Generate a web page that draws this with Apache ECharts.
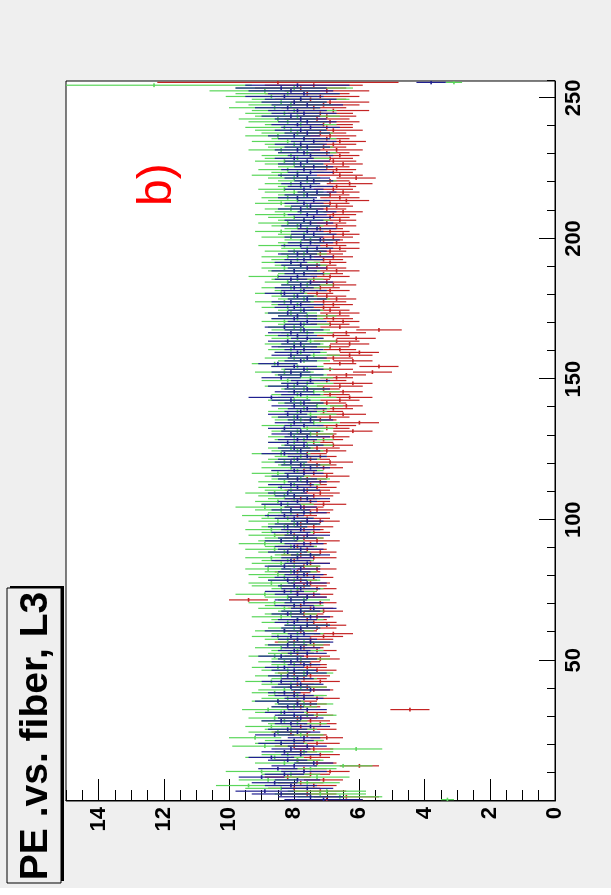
<!DOCTYPE html>
<html>
<head>
<meta charset="utf-8">
<script src="https://cdn.jsdelivr.net/npm/echarts@6/dist/echarts.min.js"></script>
<style>
html, body { margin: 0; padding: 0; background: #fff; overflow: hidden; }
#wrap { position: absolute; left: 0; top: 0; width: 611px; height: 895px; overflow: hidden; }
/* chart is drawn landscape and turned a quarter turn, like the reference */
#chart { position: absolute; left: 0; top: 0; width: 895px; height: 611px;
         transform-origin: 0 0; transform: translateY(895px) rotate(-90deg); }
</style>
</head>
<body>
<div id="wrap"><div id="chart"></div></div>
<script>
// PE per fiber bin (0..255), three histograms
var blueVals = [
  7.1,7.5,8.4,8.9,7.6,8.1,8.6,7.9,9.0,8.3,7.7,8.5,8.0,7.4,8.2,8.7,
  7.8,8.3,8.1,7.6,8.4,8.0,7.7,8.6,7.9,8.2,7.5,8.1,8.4,7.8,8.0,8.3,
  7.6,8.2,7.9,8.5,7.7,8.0,8.3,7.5,8.1,7.8,8.4,7.9,8.2,7.6,8.0,8.3,
  7.7,8.1,7.9,8.4,7.6,8.0,7.8,8.2,7.5,7.9,8.1,7.7,8.3,7.8,7.6,8.0,
  7.9,7.5,8.2,7.8,7.4,8.0,7.7,8.1,7.6,7.9,8.3,7.8,8.0,7.6,8.2,7.9,
  7.7,8.0,7.8,8.3,7.6,8.1,7.9,7.5,8.2,7.8,8.0,7.7,8.4,7.9,7.6,8.1,
  7.8,8.2,7.9,7.6,8.0,8.3,7.7,8.1,7.8,8.4,7.9,7.6,8.0,8.2,7.7,7.9,
  8.1,7.6,7.9,8.2,7.7,8.0,7.5,7.8,8.1,7.9,7.6,8.3,7.8,8.0,7.7,8.2,
  7.9,7.6,8.1,7.8,8.3,7.7,8.0,7.5,7.9,8.2,7.8,7.6,8.0,7.7,8.1,8.7,
  7.8,8.0,7.6,8.2,7.9,7.5,8.4,7.8,8.1,7.7,8.0,8.5,7.8,7.6,8.1,7.9,
  7.7,8.0,7.8,8.2,7.6,7.9,8.1,7.7,8.3,7.8,7.6,8.0,7.9,8.2,7.7,8.0,
  7.8,8.1,7.6,7.9,8.3,7.7,8.0,7.8,7.5,8.1,7.9,7.7,8.0,7.6,7.8,8.1,
  7.7,7.5,7.9,7.6,7.3,7.8,7.5,7.2,7.7,7.4,7.6,7.3,7.8,7.5,7.7,7.4,
  7.6,7.3,7.8,7.5,7.7,7.4,7.9,7.6,7.3,7.7,7.5,7.8,7.4,7.6,7.9,7.5,
  7.7,7.4,7.8,7.6,8.0,7.5,7.7,7.9,7.6,7.8,7.4,7.7,8.0,7.6,7.8,7.5,
  7.9,7.6,7.8,8.1,7.7,7.9,8.2,7.6,8.0,7.8,8.3,7.7,8.1,8.4,7.9,3.8
];
var blueErr = [
  1.2,1.0,0.9,0.9,0.8,0.8,0.7,0.7,0.7,0.6,0.7,0.6,0.7,0.6,0.6,0.7,
  0.6,0.7,0.6,0.6,0.7,0.6,0.5,0.6,0.7,0.6,0.6,0.5,0.6,0.7,0.6,0.6,
  0.6,0.5,0.6,0.7,0.6,0.6,0.5,0.6,0.6,0.7,0.6,0.5,0.6,0.6,0.7,0.6,
  0.5,0.6,0.6,0.7,0.6,0.5,0.6,0.6,0.7,0.6,0.6,0.5,0.6,0.6,0.7,0.6,
  0.6,0.6,0.5,0.6,0.7,0.6,0.6,0.5,0.6,0.7,0.6,0.6,0.5,0.6,0.6,0.7,
  0.6,0.5,0.6,0.6,0.7,0.6,0.5,0.6,0.6,0.7,0.6,0.6,0.5,0.6,0.7,0.6,
  0.6,0.6,0.7,0.5,0.6,0.6,0.7,0.6,0.5,0.6,0.6,0.7,0.6,0.6,0.5,0.6,
  0.7,0.6,0.6,0.5,0.6,0.7,0.6,0.6,0.5,0.6,0.6,0.7,0.6,0.5,0.6,0.6,
  0.6,0.7,0.6,0.6,0.5,0.6,0.6,0.7,0.6,0.6,0.5,0.6,0.7,0.6,0.6,0.7,
  0.6,0.6,0.7,0.6,0.5,0.6,0.6,0.7,0.6,0.6,0.7,0.6,0.5,0.6,0.6,0.7,
  0.6,0.7,0.6,0.6,0.5,0.6,0.7,0.6,0.6,0.5,0.6,0.7,0.6,0.6,0.5,0.6,
  0.7,0.6,0.6,0.5,0.6,0.7,0.6,0.6,0.7,0.5,0.6,0.6,0.7,0.6,0.6,0.5,
  0.6,0.7,0.6,0.6,0.5,0.6,0.7,0.6,0.6,0.7,0.5,0.6,0.6,0.7,0.6,0.6,
  0.6,0.6,0.7,0.6,0.6,0.5,0.6,0.7,0.6,0.6,0.7,0.6,0.6,0.7,0.6,0.7,
  0.7,0.6,0.7,0.7,0.6,0.7,0.8,0.7,0.7,0.8,0.7,0.8,0.8,0.7,0.8,0.9,
  0.8,0.9,0.8,0.9,1.0,0.9,1.0,1.1,1.0,1.1,1.2,1.1,1.3,1.4,1.6,0.45
];
var greenVals = [
  3.3,6.6,7.2,7.0,8.4,9.4,7.6,8.8,7.3,8.1,9.0,7.5,6.5,8.3,7.9,8.6,
  8.2,7.7,6.1,8.9,8.4,8.0,9.2,7.8,8.5,8.1,8.7,7.9,8.3,8.6,7.6,8.4,
  8.8,8.0,7.7,8.5,8.2,7.9,8.6,8.3,7.8,8.1,8.7,8.0,8.4,7.7,8.2,8.5,
  8.0,8.3,7.8,8.6,8.1,7.9,8.4,8.0,7.7,8.2,8.5,7.9,8.3,8.0,7.6,8.2,
  7.9,8.4,8.1,7.8,8.3,8.0,8.6,7.7,8.2,8.9,8.1,7.9,8.4,8.7,8.0,8.3,
  8.5,8.1,8.8,8.0,8.4,8.2,8.7,7.9,8.3,8.6,8.1,8.9,8.4,8.0,8.6,8.2,
  8.7,8.3,8.0,8.5,8.2,8.8,8.1,8.4,8.9,8.2,8.5,8.0,8.3,8.6,8.1,8.4,
  8.0,8.3,7.8,8.2,8.5,7.9,8.1,7.7,8.3,8.0,7.8,8.4,7.9,8.1,7.6,8.0,
  7.7,8.0,7.5,7.9,7.6,8.1,7.4,7.8,8.0,7.5,7.9,7.7,7.3,7.8,8.0,7.6,
  7.9,7.4,7.7,8.0,7.6,8.2,7.5,7.8,8.3,7.6,7.9,8.6,7.7,8.0,7.4,7.8,
  8.1,7.7,8.0,7.5,7.9,8.2,7.6,7.8,8.0,7.7,8.3,7.9,7.6,8.1,7.8,8.2,
  7.9,8.3,7.7,8.0,8.4,7.8,8.1,7.6,8.2,7.9,8.5,7.7,8.0,8.3,7.8,8.1,
  7.9,8.2,7.7,8.0,7.6,8.3,7.8,7.5,8.1,7.7,8.4,7.6,7.9,8.2,7.7,8.0,
  8.3,7.8,8.1,7.6,8.4,7.9,8.2,7.7,8.0,8.3,7.8,8.1,7.6,8.0,8.4,7.9,
  8.2,7.7,8.0,8.3,7.9,8.1,7.6,8.4,7.8,8.0,8.2,7.7,8.5,7.9,8.1,8.3,
  7.8,8.2,8.5,7.9,8.3,8.0,8.6,8.1,8.4,7.8,8.7,8.2,8.9,8.0,12.3,3.1
];
var greenErr = [
  0.2,1.3,1.4,1.2,1.1,1.0,1.0,0.9,1.0,0.9,1.1,0.8,0.9,0.9,0.8,0.9,
  0.8,0.9,0.8,1.0,0.8,0.9,0.8,0.7,0.9,0.8,0.8,0.9,0.7,0.8,0.9,0.8,
  0.8,0.7,0.9,0.8,0.8,0.9,0.7,0.8,0.8,0.9,0.8,0.7,0.8,0.9,0.8,0.8,
  0.7,0.8,0.9,0.8,0.7,0.8,0.8,0.9,0.8,0.7,0.8,0.8,0.9,0.8,0.7,0.8,
  0.8,0.9,0.8,0.7,0.8,0.9,0.8,0.8,0.7,0.9,0.8,0.8,0.9,0.7,0.8,0.8,
  0.9,0.8,0.7,0.8,0.9,0.8,0.8,0.7,0.8,0.9,0.8,0.8,0.7,0.9,0.8,0.8,
  0.8,0.7,0.8,0.9,0.8,0.8,0.7,0.8,0.9,0.8,0.7,0.8,0.8,0.9,0.8,0.7,
  0.8,0.8,0.9,0.7,0.8,0.8,0.9,0.8,0.7,0.8,0.8,0.9,0.8,0.7,0.8,0.8,
  0.9,0.8,0.7,0.8,0.8,0.9,0.8,0.8,0.7,0.8,0.9,0.8,0.8,0.7,0.8,0.9,
  0.8,0.8,0.7,0.9,0.8,0.8,0.7,0.8,0.9,0.8,0.8,0.7,0.8,0.9,0.8,0.8,
  0.7,0.8,0.9,0.8,0.8,0.7,0.8,0.9,0.8,0.8,0.7,0.8,0.9,0.8,0.7,0.8,
  0.8,0.9,0.8,0.7,0.8,0.8,0.9,0.8,0.7,0.8,0.9,0.8,0.8,0.7,0.8,0.9,
  0.8,0.8,0.7,0.9,0.8,0.8,0.7,0.8,0.9,0.8,0.8,0.7,0.8,0.9,0.8,0.8,
  0.9,0.8,0.8,0.7,0.8,0.9,0.8,0.8,0.9,0.8,0.7,0.8,0.9,0.8,0.9,0.8,
  0.9,0.8,0.9,0.9,1.0,0.9,0.9,1.0,1.0,0.9,1.1,1.0,1.0,1.1,1.1,1.2,
  1.1,1.2,1.2,1.3,1.2,1.3,1.4,1.3,1.4,1.5,1.4,1.6,1.7,1.8,3.0,0.25
];
var redVals = [
  7.0,6.4,7.6,7.2,8.0,7.4,7.8,7.1,8.2,7.5,6.9,7.7,6.0,7.3,7.9,7.5,
  7.2,7.8,7.4,8.0,7.3,7.7,7.0,7.6,8.1,7.4,7.8,7.2,7.5,7.9,7.3,7.6,
  4.45,7.8,7.5,7.9,7.3,7.7,8.0,7.4,7.6,7.9,7.2,7.7,7.5,8.0,7.3,7.6,
  7.5,7.8,7.2,7.6,7.9,7.3,7.7,7.4,8.0,7.5,7.1,6.8,7.8,7.3,7.0,7.4,
  7.6,7.3,7.7,7.1,7.5,7.8,7.2,9.4,7.6,7.4,7.9,7.3,7.7,7.5,7.8,7.4,
  7.6,7.9,7.3,7.7,7.5,8.0,7.4,7.8,7.2,7.6,7.9,7.5,7.3,7.7,8.0,7.4,
  7.7,7.4,7.8,7.2,7.6,7.9,7.5,7.3,7.7,7.1,7.5,7.8,7.4,7.2,7.6,7.3,
  7.5,7.2,7.6,7.0,7.4,7.7,7.1,7.3,6.9,7.5,7.2,7.6,7.0,7.3,6.8,7.4,
  7.1,6.8,7.3,6.2,7.0,6.7,6.0,7.2,6.9,6.5,7.1,6.8,6.4,7.0,6.6,6.3,
  6.9,6.5,7.1,6.6,6.2,7.0,6.7,6.4,5.6,6.9,5.4,6.6,6.2,6.8,6.3,6.0,
  6.6,6.9,6.3,6.7,6.1,6.8,6.4,5.4,6.6,6.9,6.5,6.8,7.0,6.6,6.9,7.1,
  6.8,7.1,6.7,7.0,7.3,6.9,7.2,6.8,7.0,7.4,6.9,7.1,6.7,7.0,7.3,6.9,
  7.1,6.8,7.2,6.9,6.6,7.0,6.7,7.1,6.8,6.5,6.9,7.2,6.7,7.0,6.6,6.9,
  6.8,6.5,7.0,6.7,6.9,6.4,6.6,6.9,6.5,6.8,6.7,6.3,6.9,6.1,6.6,6.8,
  6.7,7.0,6.5,6.8,6.9,6.6,7.0,6.7,7.1,6.8,6.6,7.0,6.9,7.2,6.8,7.0,
  7.1,6.9,7.3,7.0,7.2,6.8,7.4,7.1,6.9,7.5,7.2,7.6,7.0,7.8,7.4,8.5
];
var redErr = [
  1.1,1.0,0.9,0.8,0.8,0.7,0.7,0.6,0.7,0.6,0.6,0.7,0.6,0.6,0.7,0.6,
  0.6,0.5,0.6,0.6,0.7,0.6,0.5,0.6,0.6,0.7,0.6,0.5,0.6,0.6,0.5,0.6,
  0.6,0.6,0.5,0.6,0.7,0.6,0.5,0.6,0.6,0.5,0.6,0.7,0.6,0.5,0.6,0.6,
  0.5,0.6,0.6,0.7,0.5,0.6,0.6,0.5,0.6,0.7,0.6,0.6,0.5,0.6,0.6,0.7,
  0.6,0.5,0.6,0.6,0.7,0.6,0.5,0.6,0.6,0.6,0.5,0.6,0.7,0.6,0.5,0.6,
  0.6,0.7,0.6,0.5,0.6,0.6,0.7,0.6,0.5,0.6,0.6,0.5,0.7,0.6,0.6,0.5,
  0.6,0.6,0.5,0.6,0.7,0.6,0.6,0.5,0.6,0.7,0.6,0.5,0.6,0.6,0.7,0.6,
  0.5,0.6,0.6,0.7,0.6,0.5,0.6,0.6,0.7,0.6,0.5,0.6,0.6,0.7,0.6,0.6,
  0.6,0.5,0.6,0.6,0.7,0.6,0.6,0.5,0.6,0.7,0.6,0.6,0.5,0.6,0.6,0.7,
  0.6,0.6,0.5,0.7,0.6,0.6,0.5,0.6,0.6,0.7,0.6,0.5,0.6,0.6,0.7,0.6,
  0.5,0.6,0.6,0.7,0.6,0.5,0.6,0.7,0.6,0.6,0.5,0.6,0.7,0.6,0.6,0.5,
  0.6,0.7,0.6,0.6,0.5,0.6,0.6,0.7,0.6,0.5,0.6,0.6,0.7,0.6,0.6,0.5,
  0.6,0.6,0.7,0.5,0.6,0.6,0.7,0.6,0.6,0.5,0.6,0.7,0.6,0.6,0.5,0.6,
  0.7,0.6,0.6,0.5,0.6,0.7,0.6,0.6,0.5,0.6,0.6,0.7,0.6,0.6,0.7,0.6,
  0.6,0.7,0.6,0.7,0.7,0.6,0.7,0.8,0.7,0.7,0.8,0.7,0.8,0.8,0.9,0.8,
  0.9,0.9,1.0,0.9,1.0,1.1,1.0,1.1,1.2,1.1,1.2,1.3,1.3,1.4,1.5,3.7
];
var fiberTicks = [0, 50, 100, 150, 200, 250];
var titleText = 'PE .vs. fiber, L3';
var panelText = 'b)';

var FONT = '"Liberation Sans", Arial, Helvetica, sans-serif';

function toRows(vals, errs) {
  return vals.map(function (v, i) { return [i, v, errs[i]]; });
}

// error bar for one bin: vertical PE error + horizontal bin width
function renderBin(params, api) {
  var x = api.value(0), y = api.value(1), e = api.value(2);
  var lo = api.coord([x + 0.5, y - e]);
  var hi = api.coord([x + 0.5, y + e]);
  var l = api.coord([x, y]);
  var r = api.coord([x + 1, y]);
  var st = { stroke: api.visual('color'), lineWidth: 1.2 };
  return {
    type: 'group',
    children: [
      { type: 'line', shape: { x1: lo[0], y1: lo[1], x2: hi[0], y2: hi[1] }, style: st },
      { type: 'line', shape: { x1: l[0] - 0.5, y1: l[1], x2: r[0] + 0.5, y2: r[1] }, style: { stroke: api.visual('color'), lineWidth: 1.6 } }
    ]
  };
}

function histSeries(name, color, vals, errs) {
  return {
    name: name,
    type: 'custom',
    xAxisIndex: 0,
    yAxisIndex: 0,
    clip: true,
    itemStyle: { color: color },
    renderItem: renderBin,
    data: toRows(vals, errs),
    z: 3
  };
}

var myChart = echarts.init(document.getElementById('chart'), null, { renderer: 'canvas' });

var option = {
  backgroundColor: '#efefef',
  animation: false,
  grid: {
    left: 94, right: 81, top: 66, bottom: 56,
    show: true, backgroundColor: '#ffffff', borderColor: '#000', borderWidth: 1
  },
  xAxis: [
    {
      type: 'value', min: 0, max: 256, interval: 50, position: 'bottom',
      axisLine: { show: true, lineStyle: { color: '#000', width: 1 } },
      axisTick: { inside: true, length: 16, lineStyle: { color: '#000', width: 1 } },
      axisLabel: {
        margin: 8, fontSize: 22, fontWeight: 'bold', color: '#000', fontFamily: FONT,
        showMinLabel: false, showMaxLabel: false,
        formatter: function (v) { return fiberTicks.indexOf(v) >= 0 ? String(v) : ''; }
      },
      splitLine: { show: false }
    },
    {
      type: 'value', min: 0, max: 256, interval: 10, position: 'bottom',
      axisLine: { show: false },
      axisTick: { inside: true, length: 8, lineStyle: { color: '#000', width: 1 } },
      axisLabel: { show: false },
      splitLine: { show: false }
    }
  ],
  yAxis: [
    {
      type: 'value', min: 0, max: 15, interval: 2, position: 'left',
      axisLine: { show: true, lineStyle: { color: '#000', width: 1 } },
      axisTick: { inside: true, length: 22, lineStyle: { color: '#000', width: 1 } },
      axisLabel: {
        margin: 6, fontSize: 22, fontWeight: 'bold', color: '#000', fontFamily: FONT,
        showMaxLabel: false
      },
      splitLine: { show: false }
    },
    {
      type: 'value', min: 0, max: 15, interval: 0.5, position: 'left',
      axisLine: { show: false },
      axisTick: { inside: true, length: 11, lineStyle: { color: '#000', width: 1 } },
      axisLabel: { show: false },
      splitLine: { show: false }
    }
  ],
  series: [
    histSeries('red', '#c42323', redVals, redErr),
    histSeries('green', '#5ad65a', greenVals, greenErr),
    histSeries('blue', '#202090', blueVals, blueErr)
  ],
  graphic: [
    { type: 'rect', left: 0, top: 0, shape: { width: 7, height: 611 }, style: { fill: '#ffffff' }, z: 1 },
    // title box with shadow
    { type: 'rect', shape: { x: 14, y: 10, width: 295, height: 54 }, style: { fill: '#000' }, z: 10 },
    { type: 'rect', shape: { x: 12, y: 7, width: 295, height: 54 },
      style: { fill: '#efefef', stroke: '#000', lineWidth: 1 }, z: 11 },
    { type: 'text', x: 159, y: 36, z: 12,
      style: { text: titleText, fill: '#000', font: 'bold 39px ' + FONT, align: 'center', verticalAlign: 'middle' } },
    { type: 'text', x: 689, y: 158, z: 12,
      style: { text: panelText, fill: '#ff0000', font: '48px ' + FONT, align: 'left', verticalAlign: 'middle' } }
  ]
};

myChart.setOption(option);
</script>
</body>
</html>
